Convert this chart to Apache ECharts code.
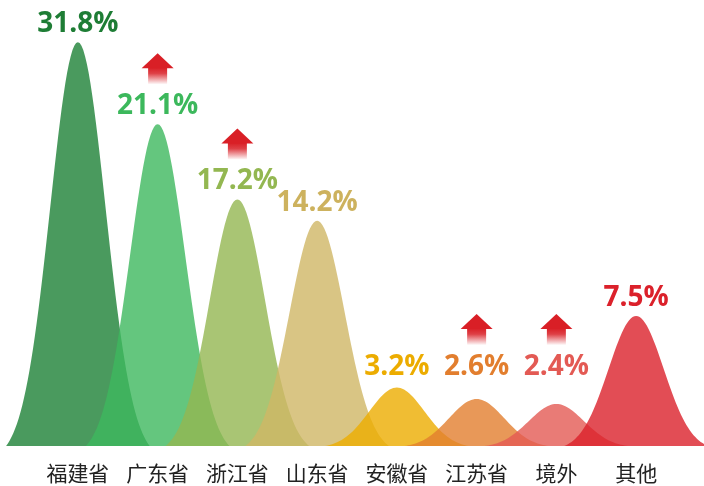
<!DOCTYPE html>
<html>
<head>
<meta charset="utf-8">
<script src="https://cdn.jsdelivr.net/npm/echarts@6/dist/echarts.min.js"></script>
<style>
html,body{margin:0;padding:0;background:#fff;}
#chart{width:704px;height:486px;}
</style>
</head>
<body>
<div id="chart"></div>
<script>
// Categories and shares (labels)
const categories = ['福建省', '广东省', '浙江省', '山东省', '安徽省', '江苏省', '境外', '其他'];
const shares = [31.8, 21.1, 17.2, 14.2, 3.2, 2.6, 2.4, 7.5];
// Peak heights as drawn in the picture (same units, tallest = 31.8)
const peakHeights = [31.8, 25.35, 19.42, 17.74, 4.6, 3.7, 3.31, 10.24];
// Up-trend arrows
const trendUp = [false, true, true, false, false, true, true, false];

const fillColors = ['#1d8136', '#3db85e', '#93b751', '#cfb665', '#ecac00', '#e27e2e', '#e35a54', '#db212b'];
const labelColors = ['#1e7d35', '#3cb85c', '#93b751', '#cdb25e', '#ecac00', '#e27e2e', '#e35a54', '#db212b'];

const data = categories.map((c, i) => [i, peakHeights[i], shares[i], trendUp[i] ? 1 : 0]);

const chart = echarts.init(document.getElementById('chart'), null, {renderer: 'canvas'});

function renderItem(params, api) {
  const idx = api.value(0);
  const h = api.value(1);
  const share = api.value(2);
  const up = api.value(3);
  const base = api.coord([idx, 0]);
  const peak = api.coord([idx, h]);
  const band = api.size([1, 0])[0];
  const sigma = 0.346 * band;
  const half = 0.9 * band;
  const e0 = Math.exp(-(half * half) / (2 * sigma * sigma));
  const pts = [];
  const N = 80;
  const H = base[1] - peak[1];
  for (let k = 0; k <= N; k++) {
    const dx = -half + (2 * half) * k / N;
    const g = (Math.exp(-(dx * dx) / (2 * sigma * sigma)) - e0) / (1 - e0);
    pts.push([base[0] + dx, base[1] - H * g]);
  }
  const children = [{
    type: 'polygon',
    shape: {points: pts},
    style: {fill: fillColors[idx], opacity: 0.8}
  }];
  const floorY = api.coord([idx, 5.6])[1];
  const labelBottom = Math.min(peak[1] - 10, floorY);
  children.push({
    type: 'text',
    style: {
      text: share.toFixed(1) + '%',
      x: base[0],
      y: labelBottom - 8,
      align: 'center',
      verticalAlign: 'middle',
      fill: labelColors[idx],
      fontSize: 28,
      fontWeight: 'bold',
      fontFamily: '"Open Sans", sans-serif'
    },
    z2: 10
  });
  if (up) {
    const yb = labelBottom - 20 - 10;
    const cx = base[0];
    children.push({
      type: 'rect',
      shape: {x: cx - 9.5, y: yb - 16.5, width: 19, height: 16.5},
      style: {
        fill: new echarts.graphic.LinearGradient(0, 0, 0, 1, [
          {offset: 0, color: 'rgba(217,31,38,1)'},
          {offset: 0.35, color: 'rgba(217,31,38,0.85)'},
          {offset: 1, color: 'rgba(217,31,38,0.03)'}
        ])
      },
      z2: 10
    });
    children.push({
      type: 'polygon',
      shape: {points: [[cx - 16, yb - 16], [cx, yb - 31], [cx + 16, yb - 16]]},
      style: {fill: '#d91f26'},
      z2: 10
    });
  }
  return {type: 'group', children};
}

chart.setOption({
  animation: false,
  backgroundColor: '#ffffff',
  grid: {left: 38, right: 28, top: 27, bottom: 40},
  xAxis: {
    type: 'category',
    data: categories,
    axisLine: {show: false},
    axisTick: {show: false},
    axisLabel: {
      interval: 0,
      hideOverlap: false,
      margin: 17,
      fontSize: 21,
      color: '#222222',
      fontFamily: '"Noto Sans CJK SC", sans-serif'
    }
  },
  yAxis: {type: 'value', min: 0, max: 33, show: false},
  series: [{
    type: 'custom',
    renderItem: renderItem,
    clip: false,
    encode: {x: 0, y: 1},
    data: data
  }]
});
</script>
</body>
</html>
